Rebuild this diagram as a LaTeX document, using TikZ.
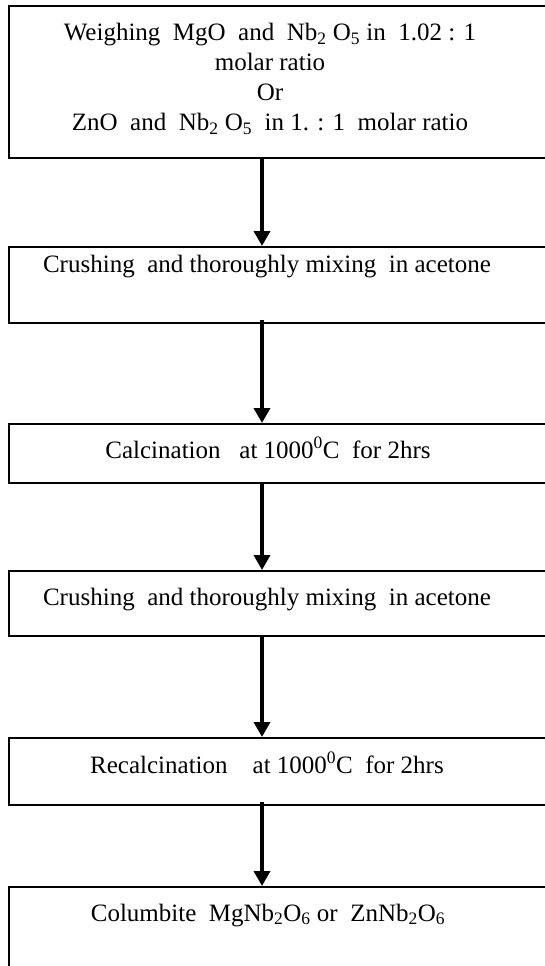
\documentclass[tikz,border=0pt]{standalone}
\usepackage{fontspec}
\setmainfont{Liberation Serif}
\usetikzlibrary{arrows.meta}

\tikzset{
  stagebox/.style={draw, rectangle, line width=1.6pt, inner sep=0pt, anchor=north west, minimum width=590pt},
  flow/.style={line width=3.5pt, -{Triangle[length=15pt,width=16pt]}},
  steptext/.style={inner sep=0pt, font=\fontsize{25}{30}\selectfont}
}

\begin{document}
\begin{tikzpicture}[x=1pt,y=-1pt]
\clip (0,0) rectangle (545,966);
% boxes of the route
\node[stagebox, minimum height=152pt] (weigh) at (8,5) {};
\node[stagebox, minimum height=76pt] (crushA) at (8,246) {};
\node[stagebox, minimum height=59pt] (calc) at (8,423) {};
\node[stagebox, minimum height=65pt] (crushB) at (8,570) {};
\node[stagebox, minimum height=67pt] (recalc) at (8,737) {};
\node[stagebox, minimum height=140pt] (prod) at (8,886) {};
\coordinate (spine) at (262,0);
% texts
\node[steptext, align=center, anchor=north] (weighT) at (270,23)
  {Weighing~~MgO~~and~ Nb\textsubscript{2}~O\textsubscript{5} in~ 1.02 : 1\\
   molar ratio\\ Or\\
   ZnO~~and~ Nb\textsubscript{2}~O\textsubscript{5}~ in 1. : 1~ molar ratio};
\node[steptext, anchor=base] (crushAT) at (267,272) {Crushing~~and thoroughly mixing~~in acetone};
\node[steptext, anchor=base] (calcT) at (268,458) {Calcination~~~at 1000\textsuperscript{0}C~~for 2hrs};
\node[steptext, anchor=base] (crushBT) at (267,605) {Crushing~~and thoroughly mixing~~in acetone};
\node[steptext, anchor=base] (recalcT) at (267,773) {Recalcination~~~~at 1000\textsuperscript{0}C~~for 2hrs};
\node[steptext, anchor=base] (prodT) at (268,921) {Columbite~~MgNb\textsubscript{2}O\textsubscript{6} or~~ZnNb\textsubscript{2}O\textsubscript{6}};
% arrows
\draw[flow] (weigh.south -| spine) -- (crushA.north -| spine);
\draw[flow, shorten <=-4pt] (crushA.south -| spine) -- (calc.north -| spine);
\draw[flow] (calc.south -| spine) -- (crushB.north -| spine);
\draw[flow] (crushB.south -| spine) -- (recalc.north -| spine);
\draw[flow, shorten <=-4pt] (recalc.south -| spine) -- (prod.north -| spine);
\end{tikzpicture}
\end{document}
